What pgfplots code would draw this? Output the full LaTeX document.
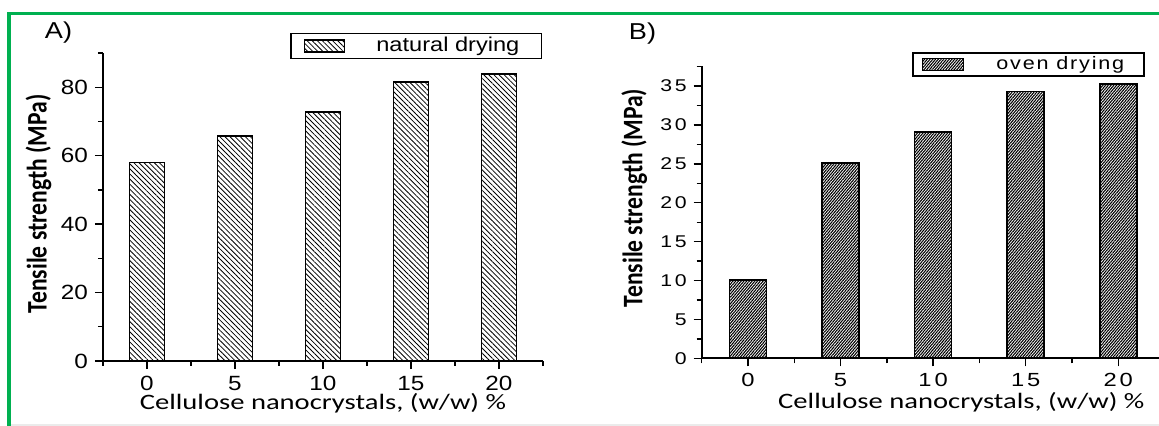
\documentclass[border=0pt]{standalone}
\usepackage{fontspec}
\setmainfont{Liberation Sans}[FakeStretch=1.18]
\newfontfamily\xlblfont{Carlito}[FakeStretch=1.3]
\newfontfamily\ylblfont{Carlito}
\newfontfamily\spacedfont{Liberation Sans}[FakeStretch=1.25, LetterSpace=15]
\newfontfamily\legspaced{Liberation Sans}[FakeStretch=1.2, LetterSpace=10]
\usepackage{pgfplots}
\pgfplotsset{compat=1.18}
\usetikzlibrary{patterns.meta}
\definecolor{framegreen}{RGB}{0,176,80}

\pgfplotsset{
  panel/.style={
    scale only axis,
    axis x line=bottom, axis y line=left,
    axis line style={-, line width=0.8pt},
    tick align=outside,
    major tick length=4pt, minor tick length=2.5pt,
    every tick/.style={black, line width=0.7pt},
    enlargelimits=false,
    ymin=0, xmin=-2.5, xmax=22.5,
    xtick={0,5,10,15,20},
    minor xtick={-2.5,2.5,7.5,12.5,17.5,22.5},
    /pgf/number format/assume math mode=true,
    ybar, bar width=2,
    ylabel style={font=\ylblfont\bfseries\fontsize{11.8}{14}\selectfont, yscale=1.2},
    xlabel style={font=\xlblfont\fontsize{11}{13}\selectfont},
    legend cell align=left,
  },
}

\begin{document}
\begin{tikzpicture}
\useasboundingbox (0,0) rectangle (579.5pt,-213pt);
\fill[framegreen] (3.5pt,-6pt) rectangle (579.5pt,-7.5pt);
\fill[framegreen] (3.5pt,-6pt) rectangle (5.3pt,-213pt);
\fill[black!8] (5.3pt,-212.2pt) rectangle (579.5pt,-213pt);

\node[font=\fontsize{11.5}{13}\selectfont] at (29.25pt,-16.25pt) {A)};
\node[font=\fontsize{11.5}{13}\selectfont] at (321.25pt,-17pt) {B)};

% panel A: natural drying
\begin{axis}[panel,
  at={(51.5pt,-180.5pt)}, anchor=south west,
  width=220pt, height=154pt,
  ymax=90,
  ytick={0,20,40,60,80},
  minor ytick={10,30,50,70,90},
  tick label style={font=\fontsize{10.3}{12}\selectfont},
  xlabel={Cellulose nanocrystals, (w/w) \%},
  ylabel={Tensile strength (MPa)},
  xlabel style={at={(axis description cs:0.5,-0.136)}, anchor=center},
  ylabel style={at={(axis description cs:-0.1466,0.51)}, anchor=center},
  legend image code/.code={\draw[#1] (0pt,-3pt) rectangle (20pt,3pt); \path (-6.5pt,0) (35.5pt,0);},
  legend style={at={(0.425,1.065)}, anchor=north west, draw=black, line width=0.75pt,
    inner xsep=0pt, inner ysep=1.8pt, nodes={inner sep=0pt},
    font=\fontsize{10}{12}\selectfont},
]
\addplot[draw=black, line width=0.8pt,
  pattern={Lines[angle=-45, distance=1.8pt, line width=0.4pt]}]
  coordinates {(0,58) (5,65.8) (10,72.7) (15,81.6) (20,83.9)};
\addlegendentry{natural drying\rule{11pt}{0pt}}
\end{axis}

% panel B: oven drying
\begin{axis}[panel,
  at={(350.85pt,-179.15pt)}, anchor=south west,
  width=231.4pt, height=146.2pt,
  ymax=37.6,
  ytick={0,5,10,15,20,25,30,35},
  minor ytick={2.5,7.5,12.5,17.5,22.5,27.5,32.5,37.5},
  yticklabel style={font=\spacedfont\fontsize{8.5}{10}\selectfont},
  xticklabel style={font=\spacedfont\fontsize{9.5}{11}\selectfont},
  xlabel={Cellulose nanocrystals, (w/w) \%},
  ylabel={Tensile strength (MPa)},
  xlabel style={at={(axis description cs:0.561,-0.149)}, anchor=center},
  ylabel style={at={(axis description cs:-0.146,0.548)}, anchor=center},
  legend image code/.code={\draw[#1] (0pt,-3pt) rectangle (20.5pt,3pt); \path (-4.5pt,0) (36.5pt,0);},
  legend style={at={(0.4544,1.0475)}, anchor=north west, draw=black, line width=0.75pt,
    inner xsep=0pt, inner ysep=1.8pt, nodes={inner sep=0pt},
    font=\legspaced\fontsize{9}{11}\selectfont},
]
\addplot[draw=black, line width=0.8pt,
  pattern={Lines[angle=50, distance=1.05pt, line width=0.55pt]}]
  coordinates {(0,10.1) (5,25.1) (10,29.1) (15,34.3) (20,35.3)};
\addlegendentry{oven drying\rule{10pt}{0pt}}
\end{axis}
\end{tikzpicture}
\end{document}
